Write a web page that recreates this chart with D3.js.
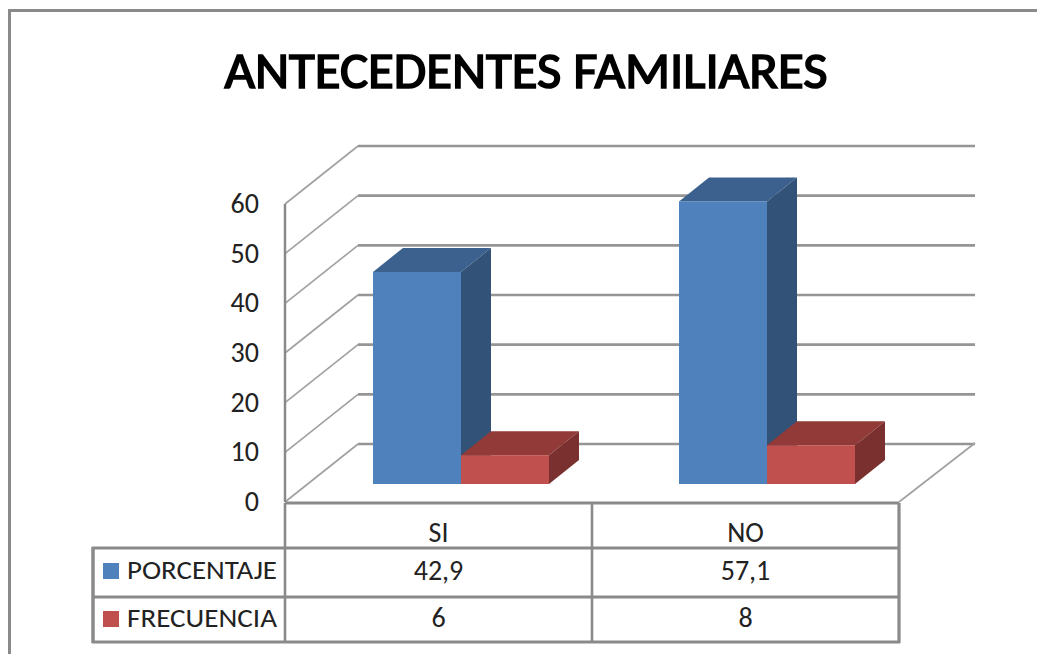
<!DOCTYPE html>
<html><head><meta charset="utf-8">
<style>html,body{margin:0;padding:0;background:#fff}svg{display:block}</style>
<script src="https://cdn.jsdelivr.net/npm/d3@7"></script></head>
<body><svg id="c" width="1037" height="654"></svg>
<script>
const categories=["SI","NO"];
const porcentaje=[42.9,57.1];
const frecuencia=[6,8];
const porcentajeLabels=["42,9","57,1"];
const frecuenciaLabels=["6","8"];
const ticks=[0,10,20,30,40,50,60];
const title="ANTECEDENTES FAMILIARES";
const seriesNames=["PORCENTAJE","FRECUENCIA"];
const colors={front:["#4f81bd","#c0504d"],top:["#3c618f","#923a38"],side:["#325277","#7a302e"]};

const svg=d3.select("#c");
const font="Carlito,'Liberation Sans',sans-serif";
const grid="#8a8a8a";
const dx=73,dy=-58;
const y=d3.scaleLinear().domain([0,60]).range([502,204]);
const barY=d3.scaleLinear().domain([0,60]).range([484,186]);
const x=d3.scaleBand().domain(categories).range([285,899]);
const xs=d3.scaleBand().domain([0,1]).range([0,176]);
const insets=[88,87];
const depth=[30,-24];

svg.append("path").attr("d","M9.5,654V10.5H1037").attr("fill","none").attr("stroke","#8a8a8a").attr("stroke-width",3);
svg.append("text").attr("x",526).attr("y",88).attr("text-anchor","middle").attr("font-family",font).attr("font-size",52).attr("stroke","#000").attr("stroke-width",1.7).attr("textLength",603).attr("lengthAdjust","spacingAndGlyphs").text(title);

// walls
ticks.forEach(t=>{
  svg.append("path").attr("d",`M285,${y(t)}L${285+dx},${y(t)+dy}`).attr("fill","none").attr("stroke","#a0a0a0").attr("stroke-width",1.6);
  svg.append("path").attr("d",`M${285+dx},${y(t)+dy}H975`).attr("fill","none").attr("stroke",grid).attr("stroke-width",2.6).attr("stroke-opacity",.9);
});
svg.append("path").attr("d",`M899,502L975,443`).attr("stroke","#a0a0a0").attr("stroke-width",1.6).attr("fill","none");
svg.append("line").attr("x1",285).attr("x2",285).attr("y1",y(60)).attr("y2",502).attr("stroke",grid).attr("stroke-width",2.5);

svg.selectAll(".tick").data(ticks).join("text").attr("class","tick").attr("x",259).attr("y",d=>y(d)+9).attr("text-anchor","end").attr("font-family",font).attr("font-size",28).attr("fill","#222").text(d=>d);

// bars
const series=[porcentaje,frecuencia];
categories.forEach((c,i)=>{
  series.forEach((vals,s)=>{
    const x0=x(c)+insets[i]+xs(s),w=xs.bandwidth(),x1=x0+w,yt=barY(vals[i])+1,yb=484;
    const [ddx,ddy]=depth;
    svg.append("path").attr("d",`M${x0},${yt}L${x0+ddx},${yt+ddy}H${x1+ddx}L${x1},${yt}Z`).attr("fill",colors.top[s]);
    svg.append("path").attr("d",`M${x1},${yt}L${x1+ddx},${yt+ddy}V${yb+ddy}L${x1},${yb}Z`).attr("fill",colors.side[s]);
    svg.append("rect").attr("x",x0).attr("y",yt).attr("width",w).attr("height",yb-yt).attr("fill",colors.front[s]);
  });
});

// table
const tbl="#8a8a8a";
const rows=[548,597,642];
const line=(a,b,c,d,sw)=>svg.append("line").attr("x1",a).attr("y1",b).attr("x2",c).attr("y2",d).attr("stroke",tbl).attr("stroke-width",sw);
line(285,503,899,503,2.8);
rows.forEach(r=>line(92,r,900,r,2.8));
line(93,rows[0]-1,93,rows[2]+1,3.5);
[285,592].forEach(v=>line(v,503,v,rows[2],2.6));
line(899,503,899,rows[2]+1,3.2);

const cell=(t,cx,yy)=>svg.append("text").attr("x",cx).attr("y",yy).attr("text-anchor","middle").attr("font-family",font).attr("font-size",28).attr("fill","#222").text(t);
categories.forEach((c,i)=>{
  const cx=x(c)+x.bandwidth()/2;
  cell(c,cx,542);
  cell(porcentajeLabels[i],cx,580);
  cell(frecuenciaLabels[i],cx,627);
});
seriesNames.forEach((n,s)=>{
  svg.append("rect").attr("x",103).attr("y",[563,611][s]).attr("width",16).attr("height",16).attr("fill",colors.front[s]);
  svg.append("text").attr("x",127).attr("y",[579,627][s]).attr("font-family",font).attr("font-size",27).attr("fill","#222").attr("textLength",150).attr("lengthAdjust","spacingAndGlyphs").text(n);
});
</script></body></html>
